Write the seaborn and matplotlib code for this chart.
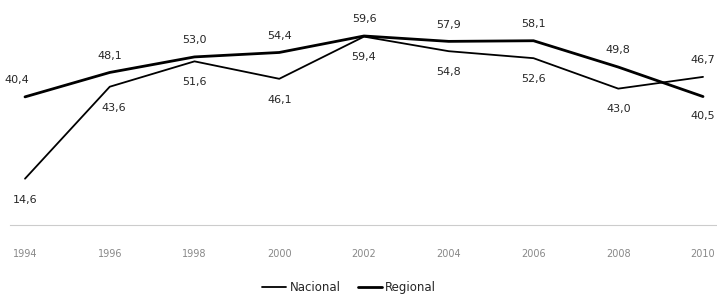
import numpy as np
import pandas as pd
import matplotlib
matplotlib.use('Agg')
import matplotlib.pyplot as plt
import seaborn as sns

years = [1994, 1996, 1998, 2000, 2002, 2004, 2006, 2008, 2010]
nacional = [14.6, 43.6, 51.6, 46.1, 59.4, 54.8, 52.6, 43.0, 46.7]
regional = [40.4, 48.1, 53.0, 54.4, 59.6, 57.9, 58.1, 49.8, 40.5]

sns.set_style('white')
plt.rcParams['font.family'] = ['DejaVu Sans']

df = pd.DataFrame({'ano': years * 2,
                   'valor': nacional + regional,
                   'serie': ['Nacional'] * len(years) + ['Regional'] * len(years)})

fig = plt.figure(figsize=(7.17, 3.01), dpi=100)
ax = fig.add_axes([10 / 717, (301 - 225) / 301, 707 / 717, 222 / 301])

sns.lineplot(data=df[df.serie == 'Nacional'], x='ano', y='valor', color='black',
             linewidth=1.3, label='Nacional', ax=ax)
sns.lineplot(data=df[df.serie == 'Regional'], x='ano', y='valor', color='black',
             linewidth=2.0, label='Regional', ax=ax)

# data labels: Regional above, Nacional below (swapped at the last point)
for x, v in zip(years, regional):
    dx = -6 if x == 1994 else 0
    dy = -14 if x == 2010 else 12
    ax.annotate(f'{v:.1f}'.replace('.', ','), (x, v), xytext=(dx, dy),
                textcoords='offset points', ha='center', va='center', fontsize=8)
for x, v in zip(years, nacional):
    dx = 3 if x == 1996 else 0
    dy = 12 if x == 2010 else -15
    ax.annotate(f'{v:.1f}'.replace('.', ','), (x, v), xytext=(dx, dy),
                textcoords='offset points', ha='center', va='center', fontsize=8)

ax.set_xlim(1993.646, 2010.33)
ax.set_ylim(0, 70)
ax.set_xticks(years)
ax.set_xticklabels([str(y) for y in years], color='#888888', fontsize=7)
ax.set_yticks([])
ax.set_xlabel('')
ax.set_ylabel('')
for s in ['top', 'right', 'left']:
    ax.spines[s].set_visible(False)
ax.spines['bottom'].set_color('#cccccc')
ax.spines['bottom'].set_linestyle((0, (2, 1)))
ax.spines['bottom'].set_linewidth(0.8)
ax.tick_params(axis='x', length=0, pad=17)

leg = ax.legend(loc='center', bbox_to_anchor=(0.48, -0.28), ncol=2, frameon=False,
                fontsize=8.5, handlelength=2.0, columnspacing=1.5, handletextpad=0.3)

fig.savefig('out.png', dpi=100)
